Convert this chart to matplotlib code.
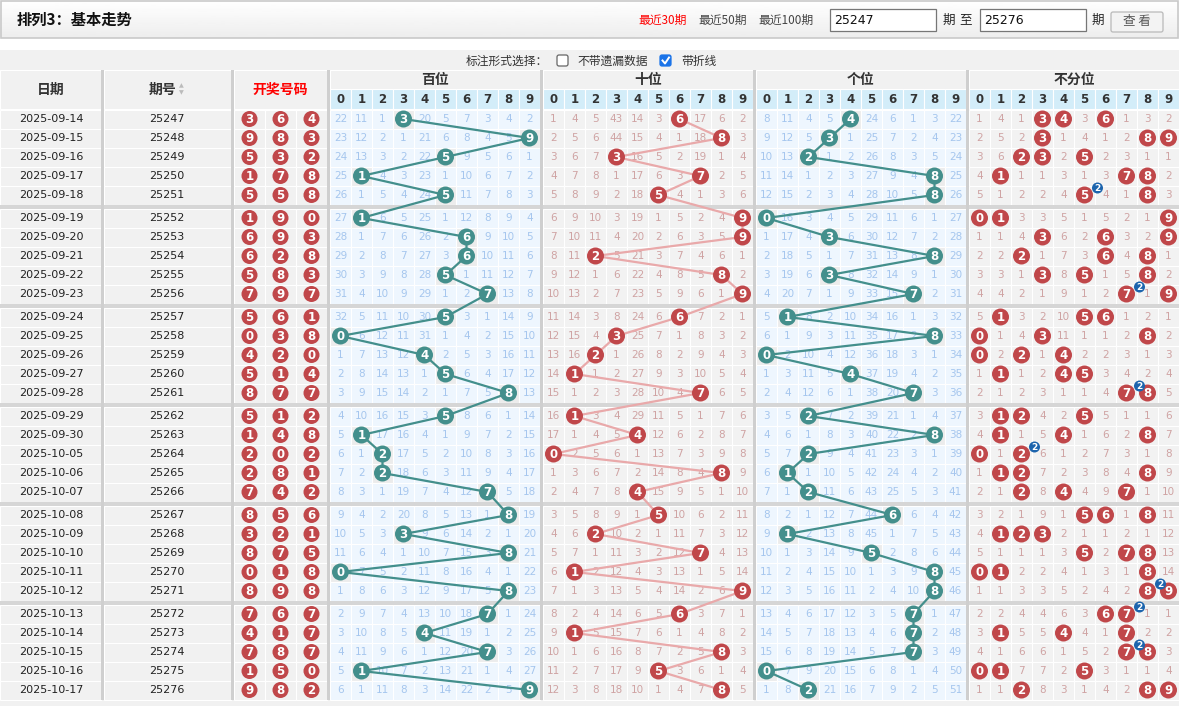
import numpy as np
import matplotlib.pyplot as plt
from matplotlib.patches import Rectangle, Circle, FancyBboxPatch

plt.rcParams['font.family'] = ['Noto Sans CJK SC', 'DejaVu Sans']

dates = ["2025-09-14", "2025-09-15", "2025-09-16", "2025-09-17", "2025-09-18",
         "2025-09-19", "2025-09-20", "2025-09-21", "2025-09-22", "2025-09-23",
         "2025-09-24", "2025-09-25", "2025-09-26", "2025-09-27", "2025-09-28",
         "2025-09-29", "2025-09-30", "2025-10-05", "2025-10-06", "2025-10-07",
         "2025-10-08", "2025-10-09", "2025-10-10", "2025-10-11", "2025-10-12",
         "2025-10-13", "2025-10-14", "2025-10-15", "2025-10-16", "2025-10-17"]

periods = ["25247", "25248", "25249", "25250", "25251", "25252", "25253", "25254", "25255", "25256",
           "25257", "25258", "25259", "25260", "25261", "25262", "25263", "25264", "25265", "25266",
           "25267", "25268", "25269", "25270", "25271", "25272", "25273", "25274", "25275", "25276"]

draws = ["364", "983", "532", "178", "558", "190", "693", "628", "583", "797",
         "561", "038", "420", "514", "877", "512", "148", "202", "281", "742",
         "856", "321", "875", "018", "898", "767", "417", "787", "150", "982"]

# omission counts, 0 = drawn in that row
bai = [
    [22, 11, 1, 0, 20, 5, 7, 3, 4, 2], [23, 12, 2, 1, 21, 6, 8, 4, 5, 0],
    [24, 13, 3, 2, 22, 0, 9, 5, 6, 1], [25, 0, 4, 3, 23, 1, 10, 6, 7, 2],
    [26, 1, 5, 4, 24, 0, 11, 7, 8, 3], [27, 0, 6, 5, 25, 1, 12, 8, 9, 4],
    [28, 1, 7, 6, 26, 2, 0, 9, 10, 5], [29, 2, 8, 7, 27, 3, 0, 10, 11, 6],
    [30, 3, 9, 8, 28, 0, 1, 11, 12, 7], [31, 4, 10, 9, 29, 1, 2, 0, 13, 8],
    [32, 5, 11, 10, 30, 0, 3, 1, 14, 9], [0, 6, 12, 11, 31, 1, 4, 2, 15, 10],
    [1, 7, 13, 12, 0, 2, 5, 3, 16, 11], [2, 8, 14, 13, 1, 0, 6, 4, 17, 12],
    [3, 9, 15, 14, 2, 1, 7, 5, 0, 13], [4, 10, 16, 15, 3, 0, 8, 6, 1, 14],
    [5, 0, 17, 16, 4, 1, 9, 7, 2, 15], [6, 1, 0, 17, 5, 2, 10, 8, 3, 16],
    [7, 2, 0, 18, 6, 3, 11, 9, 4, 17], [8, 3, 1, 19, 7, 4, 12, 0, 5, 18],
    [9, 4, 2, 20, 8, 5, 13, 1, 0, 19], [10, 5, 3, 0, 9, 6, 14, 2, 1, 20],
    [11, 6, 4, 1, 10, 7, 15, 3, 0, 21], [0, 7, 5, 2, 11, 8, 16, 4, 1, 22],
    [1, 8, 6, 3, 12, 9, 17, 5, 0, 23], [2, 9, 7, 4, 13, 10, 18, 0, 1, 24],
    [3, 10, 8, 5, 0, 11, 19, 1, 2, 25], [4, 11, 9, 6, 1, 12, 20, 0, 3, 26],
    [5, 0, 10, 7, 2, 13, 21, 1, 4, 27], [6, 1, 11, 8, 3, 14, 22, 2, 5, 0],
]
shi = [
    [1, 4, 5, 43, 14, 3, 0, 17, 6, 2], [2, 5, 6, 44, 15, 4, 1, 18, 0, 3],
    [3, 6, 7, 0, 16, 5, 2, 19, 1, 4], [4, 7, 8, 1, 17, 6, 3, 0, 2, 5],
    [5, 8, 9, 2, 18, 0, 4, 1, 3, 6], [6, 9, 10, 3, 19, 1, 5, 2, 4, 0],
    [7, 10, 11, 4, 20, 2, 6, 3, 5, 0], [8, 11, 0, 5, 21, 3, 7, 4, 6, 1],
    [9, 12, 1, 6, 22, 4, 8, 5, 0, 2], [10, 13, 2, 7, 23, 5, 9, 6, 1, 0],
    [11, 14, 3, 8, 24, 6, 0, 7, 2, 1], [12, 15, 4, 0, 25, 7, 1, 8, 3, 2],
    [13, 16, 0, 1, 26, 8, 2, 9, 4, 3], [14, 0, 1, 2, 27, 9, 3, 10, 5, 4],
    [15, 1, 2, 3, 28, 10, 4, 0, 6, 5], [16, 0, 3, 4, 29, 11, 5, 1, 7, 6],
    [17, 1, 4, 5, 0, 12, 6, 2, 8, 7], [0, 2, 5, 6, 1, 13, 7, 3, 9, 8],
    [1, 3, 6, 7, 2, 14, 8, 4, 0, 9], [2, 4, 7, 8, 0, 15, 9, 5, 1, 10],
    [3, 5, 8, 9, 1, 0, 10, 6, 2, 11], [4, 6, 0, 10, 2, 1, 11, 7, 3, 12],
    [5, 7, 1, 11, 3, 2, 12, 0, 4, 13], [6, 0, 2, 12, 4, 3, 13, 1, 5, 14],
    [7, 1, 3, 13, 5, 4, 14, 2, 6, 0], [8, 2, 4, 14, 6, 5, 0, 3, 7, 1],
    [9, 0, 5, 15, 7, 6, 1, 4, 8, 2], [10, 1, 6, 16, 8, 7, 2, 5, 0, 3],
    [11, 2, 7, 17, 9, 0, 3, 6, 1, 4], [12, 3, 8, 18, 10, 1, 4, 7, 0, 5],
]
ge = [
    [8, 11, 4, 5, 0, 24, 6, 1, 3, 22], [9, 12, 5, 0, 1, 25, 7, 2, 4, 23],
    [10, 13, 0, 1, 2, 26, 8, 3, 5, 24], [11, 14, 1, 2, 3, 27, 9, 4, 0, 25],
    [12, 15, 2, 3, 4, 28, 10, 5, 0, 26], [0, 16, 3, 4, 5, 29, 11, 6, 1, 27],
    [1, 17, 4, 0, 6, 30, 12, 7, 2, 28], [2, 18, 5, 1, 7, 31, 13, 8, 0, 29],
    [3, 19, 6, 0, 8, 32, 14, 9, 1, 30], [4, 20, 7, 1, 9, 33, 15, 0, 2, 31],
    [5, 0, 8, 2, 10, 34, 16, 1, 3, 32], [6, 1, 9, 3, 11, 35, 17, 2, 0, 33],
    [0, 2, 10, 4, 12, 36, 18, 3, 1, 34], [1, 3, 11, 5, 0, 37, 19, 4, 2, 35],
    [2, 4, 12, 6, 1, 38, 20, 0, 3, 36], [3, 5, 0, 7, 2, 39, 21, 1, 4, 37],
    [4, 6, 1, 8, 3, 40, 22, 2, 0, 38], [5, 7, 0, 9, 4, 41, 23, 3, 1, 39],
    [6, 0, 1, 10, 5, 42, 24, 4, 2, 40], [7, 1, 0, 11, 6, 43, 25, 5, 3, 41],
    [8, 2, 1, 12, 7, 44, 0, 6, 4, 42], [9, 0, 2, 13, 8, 45, 1, 7, 5, 43],
    [10, 1, 3, 14, 9, 0, 2, 8, 6, 44], [11, 2, 4, 15, 10, 1, 3, 9, 0, 45],
    [12, 3, 5, 16, 11, 2, 4, 10, 0, 46], [13, 4, 6, 17, 12, 3, 5, 0, 1, 47],
    [14, 5, 7, 18, 13, 4, 6, 0, 2, 48], [15, 6, 8, 19, 14, 5, 7, 0, 3, 49],
    [0, 7, 9, 20, 15, 6, 8, 1, 4, 50], [1, 8, 0, 21, 16, 7, 9, 2, 5, 51],
]
bufen = [
    [1, 4, 1, 0, 0, 3, 0, 1, 3, 2], [2, 5, 2, 0, 1, 4, 1, 2, 0, 0],
    [3, 6, 0, 0, 2, 0, 2, 3, 1, 1], [4, 0, 1, 1, 3, 1, 3, 0, 0, 2],
    [5, 1, 2, 2, 4, 0, 4, 1, 0, 3], [0, 0, 3, 3, 5, 1, 5, 2, 1, 0],
    [1, 1, 4, 0, 6, 2, 0, 3, 2, 0], [2, 2, 0, 1, 7, 3, 0, 4, 0, 1],
    [3, 3, 1, 0, 8, 0, 1, 5, 0, 2], [4, 4, 2, 1, 9, 1, 2, 0, 1, 0],
    [5, 0, 3, 2, 10, 0, 0, 1, 2, 1], [0, 1, 4, 0, 11, 1, 1, 2, 0, 2],
    [0, 2, 0, 1, 0, 2, 2, 3, 1, 3], [1, 0, 1, 2, 0, 0, 3, 4, 2, 4],
    [2, 1, 2, 3, 1, 1, 4, 0, 0, 5], [3, 0, 0, 4, 2, 0, 5, 1, 1, 6],
    [4, 0, 1, 5, 0, 1, 6, 2, 0, 7], [0, 1, 0, 6, 1, 2, 7, 3, 1, 8],
    [1, 0, 0, 7, 2, 3, 8, 4, 0, 9], [2, 1, 0, 8, 0, 4, 9, 0, 1, 10],
    [3, 2, 1, 9, 1, 0, 0, 1, 0, 11], [4, 0, 0, 0, 2, 1, 1, 2, 1, 12],
    [5, 1, 1, 1, 3, 0, 2, 0, 0, 13], [0, 0, 2, 2, 4, 1, 3, 1, 0, 14],
    [1, 1, 3, 3, 5, 2, 4, 2, 0, 0], [2, 2, 4, 4, 6, 3, 0, 0, 1, 1],
    [3, 0, 5, 5, 0, 4, 1, 0, 2, 2], [4, 1, 6, 6, 1, 5, 2, 0, 0, 3],
    [0, 0, 7, 7, 2, 0, 3, 1, 1, 4], [1, 1, 0, 8, 3, 1, 4, 2, 0, 0],
]
# rows (0-based) where a digit came out twice -> that digit
doubles = {4: 5, 9: 7, 14: 7, 17: 2, 24: 8, 25: 7, 27: 7}

group_names = ["百位", "十位", "个位", "不分位"]
tables = [bai, shi, ge, bufen]

TEAL = '#438f8c'
RED = '#c0474a'
PINK_LINE = '#e9a9aa'
GRAY_BG = '#f1f1f1'
BLUE_BG = '#eef6fe'
SEP = '#cfcfcf'

W, H = 1179, 706
fig = plt.figure(figsize=(W / 100, H / 100), dpi=100)
ax = fig.add_axes([0, 0, 1, 1])

# title bar
grad = np.linspace(1.0, 0.93, 40).reshape(-1, 1)
ax.imshow(grad, extent=(0, W, 38, 0), cmap='gray', vmin=0, vmax=1, aspect='auto', zorder=0)
ax.add_patch(Rectangle((0.5, 0.5), W - 1.5, 37.5, fc='none', ec='#c9c9c9', lw=1.2, zorder=1))
ax.text(17, 20, "排列3：基本走势", fontsize=11, fontweight='bold', color='#111', va='center')
ax.text(638, 20, "最近30期", fontsize=8.5, color='#ff0000', va='center')
ax.text(698, 20, "最近50期", fontsize=8.5, color='#444', va='center')
ax.text(758, 20, "最近100期", fontsize=8.5, color='#444', va='center')
for bx0, txt in [(830, periods[0]), (980, periods[-1])]:
    ax.add_patch(Rectangle((bx0, 9), 106, 22, fc='white', ec='#767676', lw=0.9, zorder=2))
    ax.text(bx0 + 4, 20, txt, fontsize=9, family='DejaVu Sans', color='#111', va='center', zorder=3)
ax.text(949, 20, "期", fontsize=9, color='#222', ha='center', va='center')
ax.text(966, 20, "至", fontsize=9, color='#222', ha='center', va='center')
ax.text(1098, 20, "期", fontsize=9, color='#222', ha='center', va='center')
ax.add_patch(FancyBboxPatch((1111, 12), 52, 20, boxstyle='round,pad=0,rounding_size=2',
                            fc='#f3f3f3', ec='#b9b9b9', lw=0.9, zorder=2))
ax.text(1137, 22, "查 看", fontsize=9, color='#555', ha='center', va='center', zorder=3)

# table background
ax.add_patch(Rectangle((0, 50), W, H - 50, fc=GRAY_BG, ec='none', zorder=0))
ax.text(548, 61, "标注形式选择：", fontsize=8.5, color='#333', ha='right', va='center')
ax.add_patch(FancyBboxPatch((557, 55), 11, 11, boxstyle='round,pad=0,rounding_size=2',
                            fc='white', ec='#666', lw=0.9, zorder=2))
ax.text(577, 61, "不带遗漏数据", fontsize=8.5, color='#333', va='center')
ax.add_patch(FancyBboxPatch((660, 55), 11, 11, boxstyle='round,pad=0,rounding_size=2',
                            fc='#1a73e8', ec='#1a73e8', lw=0.9, zorder=2))
ax.plot([662.5, 665, 669], [60.5, 63.5, 57.5], color='white', lw=1.4, zorder=3)
ax.text(681, 61, "带折线", fontsize=8.5, color='#333', va='center')

# row positions: 19 px pitch, 4 px band after every 5 rows
row_y = [119 + 19 * i + 4 * (i // 5) for i in range(len(dates))]

# header cells
left_cols = [(0, 101, "日期", '#333'), (104, 231, "期号", '#333'), (234, 327, "开奖号码", '#ff0000')]
for x0, x1, lab, col in left_cols:
    ax.add_patch(Rectangle((x0, 70), x1 - x0, 39, fc=GRAY_BG, ec='white', lw=0.8, zorder=1))
    cx = (x0 + x1) / 2 - (5 if lab == "期号" else 0)
    ax.text(cx, 90, lab, fontsize=10, fontweight='bold', color=col, ha='center', va='center')
ax.text(181, 86, "▲", fontsize=4.5, color='#bbb', ha='center', va='center', family='DejaVu Sans')
ax.text(181, 93, "▼", fontsize=4.5, color='#bbb', ha='center', va='center', family='DejaVu Sans')

for g, name in enumerate(group_names):
    x0 = 330 + 213 * g
    ax.add_patch(Rectangle((x0, 70), 210, 19, fc=GRAY_BG, ec='white', lw=0.8, zorder=1))
    ax.text(x0 + 105, 80, name, fontsize=10, fontweight='bold', color='#333', ha='center', va='center')
    for d in range(10):
        ax.add_patch(Rectangle((x0 + 21 * d, 89), 21, 20, fc='#d3edf9', ec='white', lw=0.8, zorder=1))
        ax.text(x0 + 10.5 + 21 * d, 99.5, str(d), fontsize=8.5, fontweight='bold', color='#333',
                ha='center', va='center', family='DejaVu Sans')

# left columns: date, period, drawn numbers
for i, y in enumerate(row_y):
    ax.add_patch(Rectangle((0, y - 9.5), 101, 19, fc=GRAY_BG, ec='white', lw=0.8, zorder=1))
    ax.add_patch(Rectangle((104, y - 9.5), 127, 19, fc=GRAY_BG, ec='white', lw=0.8, zorder=1))
    ax.text(51, y, dates[i], fontsize=8, color='#222', ha='center', va='center', family='DejaVu Sans')
    ax.text(167, y, periods[i], fontsize=8, color='#222', ha='center', va='center', family='DejaVu Sans')
    for k, ch in enumerate(draws[i]):
        sx = 234 + 31 * k
        ax.add_patch(Rectangle((sx, y - 9.5), 31, 19, fc=GRAY_BG, ec='white', lw=0.8, zorder=1))
        ax.add_patch(Circle((sx + 15.5, y), 8, fc=RED, ec='none', zorder=5))
        ax.text(sx + 15.5, y + 0.5, ch, fontsize=8.5, fontweight='bold', color='white',
                ha='center', va='center', family='DejaVu Sans', zorder=6)

# trend groups
for g, tab in enumerate(tables):
    x0 = 330 + 213 * g
    blue = g in (0, 2)
    bg = BLUE_BG if blue else '#f2f2f2'
    tc = '#a5c6ee' if blue else '#cfa3a3'
    ball = TEAL if blue else RED
    for i, y in enumerate(row_y):
        for d in range(10):
            xc = x0 + 10.5 + 21 * d
            v = tab[i][d]
            fc = '#ececec' if (v == 0 and blue) else bg
            ax.add_patch(Rectangle((xc - 10.5, y - 9.5), 21, 19, fc=fc, ec='white', lw=0.8, zorder=1))
            if v == 0:
                ax.add_patch(Circle((xc, y), 8.5, fc=ball, ec='none', zorder=5))
                ax.text(xc, y + 0.5, str(d), fontsize=8.5, fontweight='bold', color='white',
                        ha='center', va='center', family='DejaVu Sans', zorder=6)
            else:
                ax.text(xc, y, str(v), fontsize=7.5, color=tc, ha='center', va='center',
                        family='DejaVu Sans', zorder=3)
    if g < 3:
        xs = [x0 + 10.5 + 21 * row.index(0) for row in tab]
        ax.plot(xs, row_y, color=TEAL if blue else PINK_LINE, lw=1.6, zorder=4,
                solid_capstyle='round')

# badges for digits drawn twice
for i, d in doubles.items():
    bx = 969 + 10.5 + 21 * d + 13
    by = row_y[i] - 7
    ax.add_patch(Circle((bx, by), 5.5, fc='#1c64ad', ec='none', zorder=7))
    ax.text(bx, by + 0.3, "2", fontsize=6.5, fontweight='bold', color='white', ha='center',
            va='center', family='DejaVu Sans', zorder=8)

# separators
for i in range(5, len(row_y), 5):
    ax.add_patch(Rectangle((0, row_y[i - 1] + 9.5), W, 4, fc='#d6d6d6', ec='none', zorder=2))
for sx in [101, 231, 327, 540, 753, 966]:
    ax.add_patch(Rectangle((sx, 70), 3, row_y[-1] + 9.5 - 70, fc=SEP, ec='none', zorder=2))

ax.set_xlim(0, W)
ax.set_ylim(H, 0)
ax.axis('off')
fig.savefig("out.png", dpi=100)
